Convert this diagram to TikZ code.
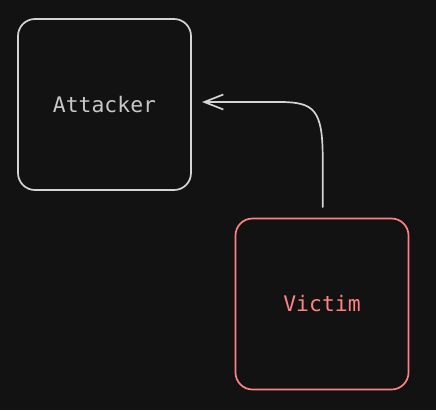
\documentclass[tikz,border=0pt]{standalone}
\usepackage{fontspec}
\setmonofont{DejaVu Sans Mono}
\usetikzlibrary{arrows.meta}
\definecolor{bg}{HTML}{121212}
\definecolor{graystroke}{HTML}{D4D4D4}
\definecolor{graytext}{HTML}{C8C8C8}
\definecolor{redstroke}{HTML}{FF8383}
\tikzset{
  box/.style={draw, line width=1.7pt, rounded corners=17pt, fill=bg,
    minimum width=173pt, minimum height=171pt, inner sep=0pt,
    font=\ttfamily\fontsize{21.4pt}{24pt}\selectfont},
  attackerbox/.style={box, draw=graystroke, text=graytext},
  victimbox/.style={box, draw=redstroke, text=redstroke},
  link/.style={draw=graystroke, line width=1.7pt, line cap=round,
    -{Straight Barb[length=19pt,width=15pt,line width=1.7pt]}}
}
\begin{document}
\begin{tikzpicture}[x=1pt,y=-1pt]
  \fill[bg] (0,0) rectangle (436,410);
  \useasboundingbox (0,0) rectangle (436,410);
  \node[attackerbox] (a) at (104.5,104.5) {Attacker};
  \node[victimbox] (v) at (322,304) {Victim};
  \coordinate (s) at (322.7,207);
  \coordinate (t) at (202,102);
  \draw[link] (s) -- (322.7,158) .. controls (322.7,110) and (314,102.5) .. (282,102) -- (t);
\end{tikzpicture}
\end{document}
